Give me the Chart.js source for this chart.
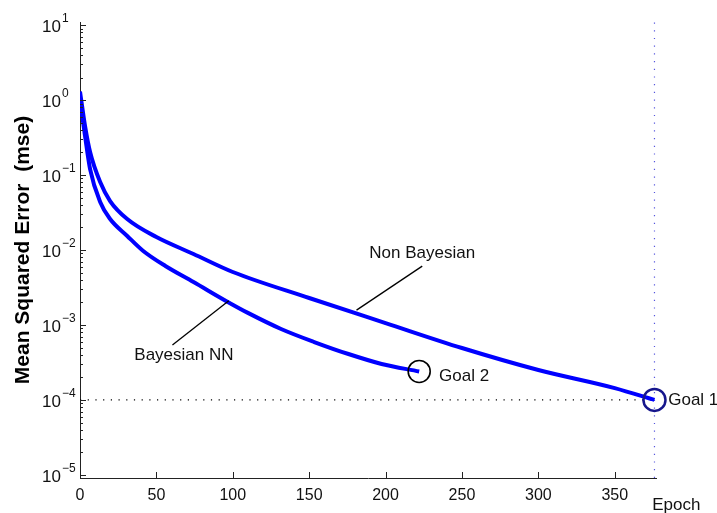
<!DOCTYPE html>
<html>
<head>
<meta charset="utf-8">
<script src="https://cdn.jsdelivr.net/npm/chart.js@4.4.0/dist/chart.umd.min.js"></script>
<style>
html, body { margin: 0; padding: 0; background: #fff; }
#wrap { width: 717px; height: 513px; }
</style>
</head>
<body>
<div id="wrap"><canvas id="mse"></canvas></div>
<script>
// training curves (epoch, mse)
const nonBayesEpoch = [0, 3.3, 6.6, 13.2, 19.7, 30.9, 50, 74.3, 100, 150, 200, 250, 300, 350, 376];
const nonBayesMse = [1.3, 0.45, 0.203, 0.0807, 0.045, 0.0259, 0.0149, 0.00885, 0.00509, 0.00229, 0.00106, 0.000493, 0.000251, 0.000144, 0.0001];
const bayesEpoch = [0, 3.3, 6.6, 13.2, 19.7, 30.9, 41.4, 55.9, 74.3, 96.7, 109.9, 131.6, 153.3, 175.7, 197.4, 222];
const bayesMse = [1.0, 0.331, 0.12, 0.0437, 0.0259, 0.0154, 0.0097, 0.00612, 0.00374, 0.00203, 0.00145, 0.000885, 0.000593, 0.00041, 0.000302, 0.00024];

const goal1 = { x: 376, y: 1e-4 };
const goal2 = { x: 222, y: 2.4e-4 };

const xTicks = [0, 50, 100, 150, 200, 250, 300, 350];
const yTicks = [1e-5, 1e-4, 1e-3, 1e-2, 1e-1, 1e0, 1e1];
const xMin = 0, xMax = 377;
const yMin = 9.1e-6, yMax = 11;

const FONT = "'Liberation Sans', Arial, Helvetica, sans-serif";

function toPoints(xs, ys) {
    return xs.map((x, i) => ({ x: x, y: ys[i] }));
}

// text labels and leader lines, in data coordinates
const notes = [
    { text: 'Non Bayesian', x: 224, y: 0.0089, align: 'center', line: [[224, 0.0061], [181, 0.00158]] },
    { text: 'Bayesian NN', x: 68, y: 3.9e-4, align: 'center', line: [[60.5, 5.4e-4], [97.4, 0.0021]] },
    { text: 'Goal 2', x: 235, y: 2.09e-4, align: 'left' },
    { text: 'Goal 1', x: 385, y: 1e-4, align: 'left' },
    { text: 'Epoch', x: 374.5, y: 3.9e-6, align: 'left' }
];

const axisDecor = {
    id: 'axisDecor',
    afterDatasetsDraw(chart) {
        const ctx = chart.ctx;
        const xs = chart.scales.x, ys = chart.scales.y;
        ctx.save();
        // inward tick marks
        ctx.strokeStyle = '#222';
        ctx.lineWidth = 1;
        ctx.beginPath();
        xTicks.forEach(v => {
            const px = Math.round(xs.getPixelForValue(v)) + 0.5;
            ctx.moveTo(px, ys.bottom);
            ctx.lineTo(px, ys.bottom - 6);
        });
        for (let k = -5; k <= 1; k++) {
            for (let m = 1; m <= 9; m++) {
                const v = m * Math.pow(10, k);
                if (v < yMin || v > yMax) continue;
                const py = Math.round(ys.getPixelForValue(v)) + 0.5;
                ctx.moveTo(xs.left, py);
                ctx.lineTo(xs.left + (m === 1 ? 6 : 3), py);
            }
        }
        ctx.stroke();

        // y tick labels: 10 with a raised exponent
        ctx.fillStyle = '#111';
        ctx.textBaseline = 'middle';
        yTicks.forEach(v => {
            const py = ys.getPixelForValue(v);
            const ex = Math.round(Math.log10(v));
            ctx.font = '17px ' + FONT;
            ctx.textAlign = 'right';
            ctx.fillText('10', 61, py + 2);
            ctx.font = '12px ' + FONT;
            ctx.textAlign = 'left';
            ctx.fillText(ex < 0 ? '\u2212' + (-ex) : String(ex), 62, py - 6);
        });

        // annotations
        ctx.strokeStyle = '#000';
        ctx.lineWidth = 1.3;
        ctx.font = '17px ' + FONT;
        notes.forEach(n => {
            if (n.line) {
                ctx.beginPath();
                ctx.moveTo(xs.getPixelForValue(n.line[0][0]), ys.getPixelForValue(n.line[0][1]));
                ctx.lineTo(xs.getPixelForValue(n.line[1][0]), ys.getPixelForValue(n.line[1][1]));
                ctx.stroke();
            }
            ctx.textAlign = n.align;
            ctx.fillText(n.text, xs.getPixelForValue(n.x), ys.getPixelForValue(n.y));
        });
        ctx.restore();
    }
};

const data = {
    datasets: [
        {
            label: 'Non Bayesian',
            data: toPoints(nonBayesEpoch, nonBayesMse),
            borderColor: '#0000ff',
            borderWidth: 4,
            pointRadius: 0,
            cubicInterpolationMode: 'monotone',
            order: 3
        },
        {
            label: 'Bayesian NN',
            data: toPoints(bayesEpoch, bayesMse),
            borderColor: '#0000ff',
            borderWidth: 4,
            pointRadius: 0,
            cubicInterpolationMode: 'monotone',
            order: 3
        },
        {
            label: 'goal level',
            data: [{ x: xMin, y: goal1.y }, { x: goal1.x, y: goal1.y }],
            borderColor: '#000',
            borderWidth: 1.2,
            borderDash: [1.2, 6.5],
            pointRadius: 0,
            order: 4
        },
        {
            label: 'goal epoch',
            data: [{ x: goal1.x, y: yMin }, { x: goal1.x, y: yMax }],
            borderColor: '#5555dd',
            borderWidth: 1.2,
            borderDash: [1.2, 6.5],
            pointRadius: 0,
            order: 4
        },
        {
            label: 'Goal 1',
            data: [goal1],
            showLine: false,
            clip: false,
            pointRadius: 11,
            pointBorderWidth: 2.5,
            pointBorderColor: '#16168c',
            pointBackgroundColor: 'rgba(0,0,0,0)',
            order: 1
        },
        {
            label: 'Goal 2',
            data: [goal2],
            showLine: false,
            clip: false,
            pointRadius: 11,
            pointBorderWidth: 1.6,
            pointBorderColor: '#000',
            pointBackgroundColor: 'rgba(0,0,0,0)',
            order: 1
        }
    ]
};

const config = {
    type: 'line',
    data: data,
    plugins: [axisDecor],
    options: {
        responsive: false,
        animation: false,
        layout: { padding: { top: 22, right: 61, left: 0, bottom: 0 } },
        plugins: {
            legend: { display: false },
            tooltip: { enabled: false }
        },
        scales: {
            x: {
                type: 'linear',
                min: xMin,
                max: xMax,
                grid: { display: false, drawTicks: false },
                border: { display: true, color: '#222', width: 1 },
                afterBuildTicks: s => { s.ticks = xTicks.map(v => ({ value: v })); },
                afterFit: s => { s.height = 35; },
                ticks: {
                    padding: 8,
                    maxRotation: 0,
                    color: '#111',
                    font: { family: FONT, size: 16 }
                }
            },
            y: {
                type: 'logarithmic',
                min: yMin,
                max: yMax,
                grid: { display: false, drawTicks: false },
                border: { display: true, color: '#222', width: 1 },
                afterBuildTicks: s => { s.ticks = yTicks.map(v => ({ value: v })); },
                afterFit: s => { s.width = 80; },
                title: {
                    display: true,
                    text: 'Mean Squared Error  (mse)',
                    color: '#000',
                    font: { family: FONT, size: 21, weight: 'bold' },
                    padding: { top: 11, bottom: 0 }
                },
                ticks: { display: false }
            }
        }
    }
};

const canvas = document.getElementById('mse');
canvas.width = 717;
canvas.height = 513;
let ctx = canvas.getContext('2d');
new Chart(ctx, config);
</script>
</body>
</html>
